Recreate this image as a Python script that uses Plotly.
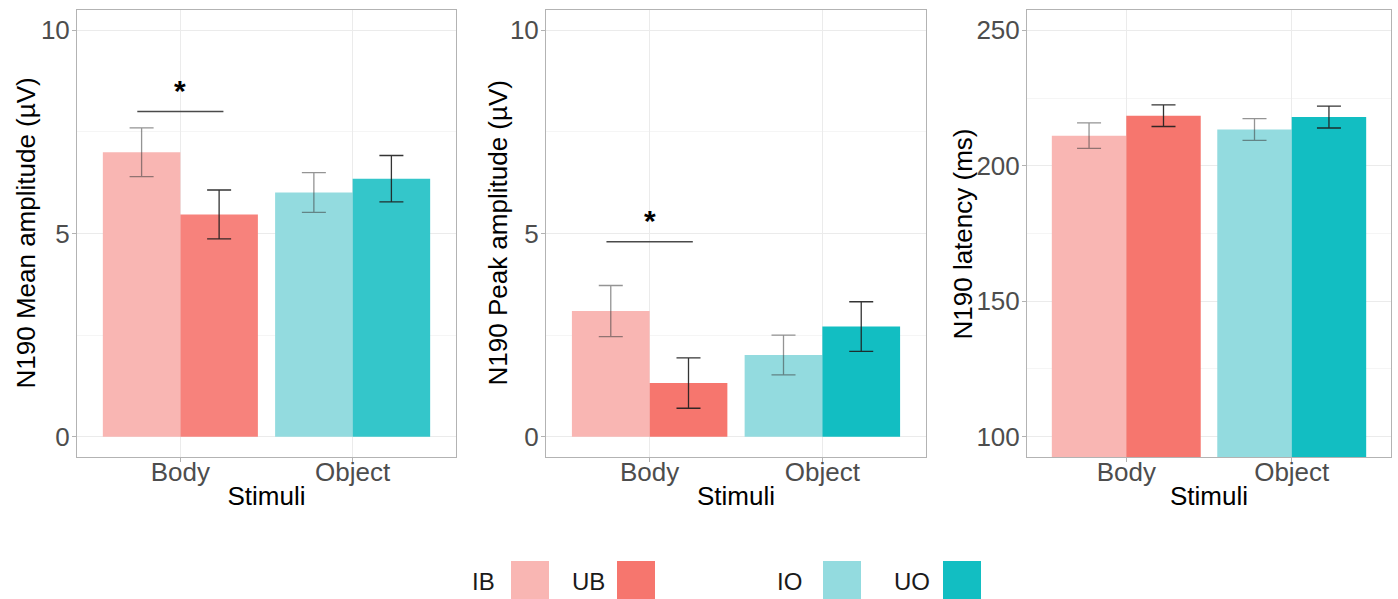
import plotly.graph_objects as go

# ---- data -------------------------------------------------------------
stimuli = ["Body", "Object"]

# N190 mean amplitude (µV): I-conditions (IB, IO) and U-conditions (UB, UO)
mean_i = [7.00, 6.01]
mean_i_err = [0.60, 0.49]
mean_u = [5.47, 6.35]
mean_u_err = [0.60, 0.57]

# N190 peak amplitude (µV)
peak_i = [3.09, 2.01]
peak_i_err = [0.63, 0.49]
peak_u = [1.32, 2.71]
peak_u_err = [0.62, 0.61]

# N190 latency (ms)
lat_i = [211.1, 213.4]
lat_i_err = [4.7, 4.0]
lat_u = [218.5, 218.0]
lat_u_err = [4.0, 4.05]

# significance markers (Body: IB vs UB)
sig_y = [8.0, 4.8]

legend_labels = ["IB", "UB", "IO", "UO"]

# ---- styling ----------------------------------------------------------
FONT = "Liberation Sans, Arial, sans-serif"
c_ib, c_io = "#F9B6B3", "#93DBDF"
c_ub1, c_uo1 = "#F7827C", "#34C6CA"
c_ub, c_uo = "#F6766E", "#12BEC2"
legend_colors = [c_ib, c_ub, c_io, c_uo]

W, H = 1398, 599
panels = [  # plot-area pixel boxes (left, right)
    (77, 456),
    (546, 926),
    (1027, 1391),
]
ytitle_x = [25, 497, 962]
top_px, bot_px = 10, 457
ydom = [1 - bot_px / H, 1 - top_px / H]

fig = go.Figure()

specs = [
    (mean_i, mean_i_err, mean_u, mean_u_err, [c_ib, c_io], [c_ub1, c_uo1],
     "N190 Mean amplitude (µV)", [-0.5, 10.5], 5, 2.5),
    (peak_i, peak_i_err, peak_u, peak_u_err, [c_ib, c_io], [c_ub, c_uo],
     "N190 Peak amplitude (µV)", [-0.5, 10.5], 5, 2.5),
    (lat_i, lat_i_err, lat_u, lat_u_err, [c_ib, c_io], [c_ub, c_uo],
     "N190 latency (ms)", [92.5, 257.5], 50, 25),
]

for k, (yi, ei, yu, eu, ci, cu, ytitle, yrange, dt, mdt) in enumerate(specs):
    n = "" if k == 0 else str(k + 1)
    xa, ya = "x" + n, "y" + n
    fig.add_trace(go.Bar(
        x=stimuli, y=yi, xaxis=xa, yaxis=ya, marker=dict(color=ci, line=dict(width=0)),
        error_y=dict(type="data", array=ei, color="rgba(60,60,60,0.55)",
                     thickness=1.3, width=12),
        showlegend=False, offsetgroup="I",
    ))
    fig.add_trace(go.Bar(
        x=stimuli, y=yu, xaxis=xa, yaxis=ya, marker=dict(color=cu, line=dict(width=0)),
        error_y=dict(type="data", array=eu, color="rgba(30,30,30,0.9)",
                     thickness=1.3, width=12),
        showlegend=False, offsetgroup="U",
    ))
    l, r = panels[k]
    fig.layout["xaxis" + n] = dict(
        domain=[l / W, r / W], anchor=ya, type="category",
        categoryorder="array", categoryarray=stimuli, range=[-0.6, 1.6],
        showline=True, mirror=True, linecolor="#B3B3B3", linewidth=1,
        showgrid=True, gridcolor="#EBEBEB", gridwidth=1,
        ticks="outside", ticklen=4, tickcolor="#B3B3B3",
        ticklabelstandoff=-12,
        tickfont=dict(family=FONT, size=26, color="#4D4D4D"),
        title=dict(text="Stimuli", font=dict(family=FONT, size=26, color="#000000"),
                   standoff=0),
        zeroline=False, fixedrange=True,
    )
    fig.layout["yaxis" + n] = dict(
        domain=ydom, anchor=xa, range=yrange, tick0=0, dtick=dt,
        showline=True, mirror=True, linecolor="#B3B3B3", linewidth=1,
        showgrid=True, gridcolor="#EBEBEB", gridwidth=1,
        minor=dict(showgrid=True, gridcolor="#F5F5F5", dtick=mdt, tick0=0, ticks=""),
        ticks="outside", ticklen=4, tickcolor="#B3B3B3",
        ticklabelstandoff=-3,
        tickfont=dict(family=FONT, size=26, color="#4D4D4D"),
        zeroline=False, fixedrange=True,
    )
    # y-axis title, rotated, centred on the panel height
    fig.add_annotation(xref="paper", yref="paper", x=ytitle_x[k] / W,
                       y=1 - (top_px + bot_px) / 2 / H, text=ytitle, textangle=-90,
                       showarrow=False, xanchor="center", yanchor="middle",
                       font=dict(family=FONT, size=26, color="#000000"))

# significance bars with asterisks (panels 1 and 2)
for k, yv in enumerate(sig_y):
    n = "" if k == 0 else str(k + 1)
    fig.add_shape(type="line", xref="x" + n, yref="y" + n,
                  x0=-0.25, x1=0.25, y0=yv, y1=yv,
                  line=dict(color="#4A4A4A", width=1.5))
    fig.add_annotation(xref="x" + n, yref="y" + n, x=0, y=yv, text="<b>*</b>",
                       showarrow=False, yanchor="bottom", yshift=3,
                       font=dict(family=FONT, size=30, color="#000000"))

# legend drawn as keys + labels at the bottom
key_x = [511, 617, 823, 943]
label_x = [483, 588, 790, 912]
key_size = 38
key_top = 561
for lab, col, kx, tx in zip(legend_labels, legend_colors, key_x, label_x):
    fig.add_shape(type="rect", xref="paper", yref="paper",
                  x0=kx / W, x1=(kx + key_size) / W,
                  y0=1 - (key_top + key_size) / H, y1=1 - key_top / H,
                  fillcolor=col, line=dict(width=0))
    fig.add_annotation(xref="paper", yref="paper", x=tx / W, y=1 - 581 / H,
                       text=lab, showarrow=False, xanchor="center", yanchor="middle",
                       font=dict(family=FONT, size=24, color="#1A1A1A"))

fig.update_layout(
    width=W, height=H, margin=dict(l=0, r=0, t=0, b=0),
    paper_bgcolor="white", plot_bgcolor="white",
    barmode="group", bargap=0.1, bargroupgap=0,
    showlegend=False,
)

fig.write_html("out.html", config={"displayModeBar": False})
